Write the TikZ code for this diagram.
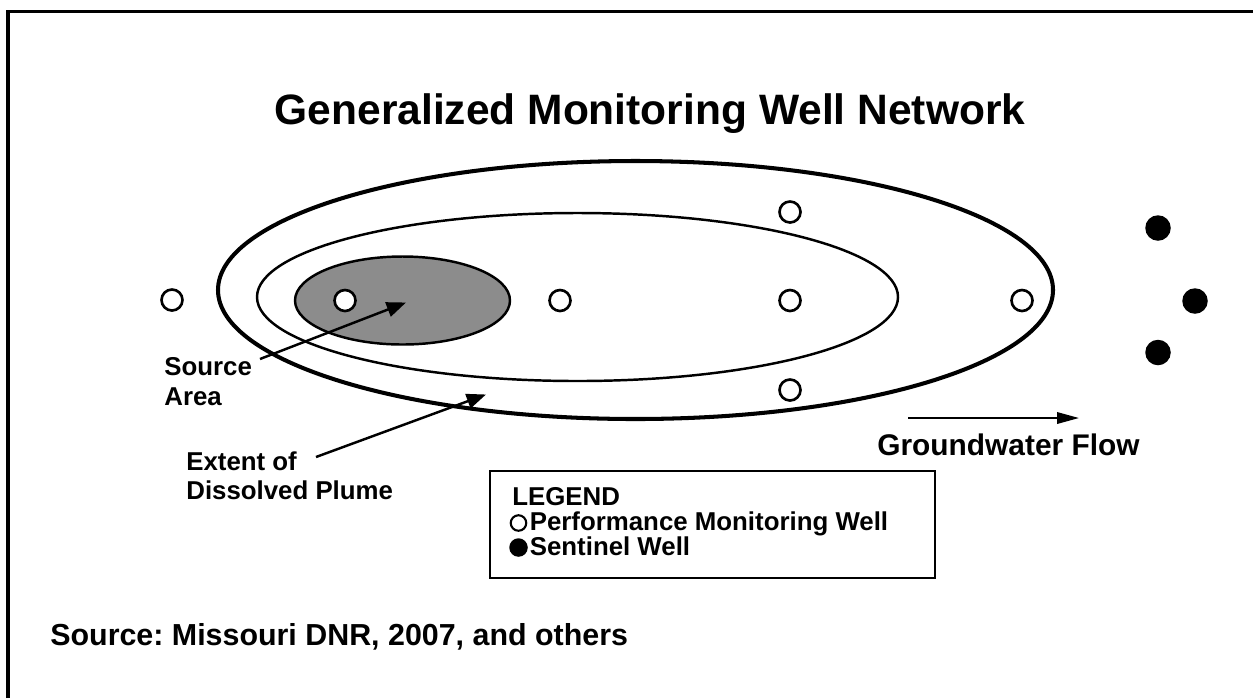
\documentclass[tikz,border=0pt]{standalone}
\usepackage{fontspec}
\setmainfont{Liberation Sans}
\usetikzlibrary{arrows.meta}
\frenchspacing
\tikzset{
  openwell/.style={circle,draw=black,fill=white,line width=1.5pt,minimum size=0.42cm,inner sep=0pt},
  sentinel/.style={circle,fill=black,minimum size=0.51cm,inner sep=0pt},
  legopen/.style={circle,draw=black,line width=1.2pt,minimum size=0.31cm,inner sep=0pt},
  legfill/.style={circle,fill=black,minimum size=0.37cm,inner sep=0pt},
  lbl/.style={font=\bfseries\fontsize{14.7}{17}\selectfont,inner sep=0pt,align=left},
  pointer/.style={line width=1.4pt,-{Triangle[length=11pt,width=8.5pt]}},
}
\begin{document}
\begin{tikzpicture}[x=0.02cm,y=-0.02cm]
\useasboundingbox (0,0) rectangle (1253,698);
% frame (left and top edges)
\draw[line width=1.8pt] (8,698) -- (8,11.5) -- (1253,11.5);
% title
\node[anchor=base,inner sep=0pt,font=\bfseries\fontsize{24.2}{28}\selectfont] (title) at (650,124) {Generalized Monitoring Well Network};
% ellipses
\draw[line width=2.3pt] (635.5,290) ellipse [x radius=417.5, y radius=129];
\draw[line width=1.4pt] (577.5,297) ellipse [x radius=320.5, y radius=84];
\draw[line width=1.4pt,fill={rgb,255:red,140;green,140;blue,140}] (402.5,300.5) ellipse [x radius=107.5, y radius=44];
% performance monitoring wells
\node[openwell] (w1) at (172,300) {};
\node[openwell] (w2) at (345,300.5) {};
\node[openwell] (w3) at (560,300.5) {};
\node[openwell] (w4) at (790,300.5) {};
\node[openwell] (w5) at (1022,300.5) {};
\node[openwell] (w6) at (790,212) {};
\node[openwell] (w7) at (790,390) {};
% sentinel wells
\node[sentinel] (s1) at (1158,228) {};
\node[sentinel] (s2) at (1195,301) {};
\node[sentinel] (s3) at (1158,352.5) {};
% labels
\node[lbl,anchor=north west] (srcl) at (164,357) {Source\\Area};
\node[lbl,anchor=north west] (extl) at (186,451) {Extent of\\Dissolved Plume};
\coordinate (srcTail) at (260,359);
\coordinate (srcTip) at (406,302.5);
\coordinate (extTail) at (316,457);
\coordinate (extTip) at (486,394.5);
\draw[pointer] (srcTail) -- (srcTip);
\draw[pointer] (extTail) -- (extTip);
% groundwater flow
\coordinate (flowA) at (908,418);
\coordinate (flowB) at (1079,418);
\draw[line width=1.2pt,-{Triangle[length=12.5pt,width=6.5pt]}] (flowA) -- (flowB);
\node[anchor=base west,inner sep=0pt,font=\bfseries\fontsize{17}{20}\selectfont] (flowl) at (877,455) {Groundwater Flow};
% legend
\node[draw=black,line width=1.2pt,minimum width=8.9cm,minimum height=2.14cm,inner sep=0pt] (legend) at (712.5,524.5) {};
\node[lbl,anchor=base west] (legt) at (512,505) {LEGEND};
\node[legopen] (lo) at (518.5,523) {};
\node[legfill] (lf) at (518.5,547.5) {};
\node[lbl,anchor=base west] (lpm) at (529.5,530) {Performance Monitoring Well};
\node[lbl,anchor=base west] (lsw) at (529.5,555) {Sentinel Well};
% source
\node[anchor=base west,inner sep=0pt,font=\bfseries\fontsize{17.3}{21}\selectfont] (srcnote) at (50,645) {Source: Missouri DNR, 2007, and others};
\end{tikzpicture}
\end{document}
